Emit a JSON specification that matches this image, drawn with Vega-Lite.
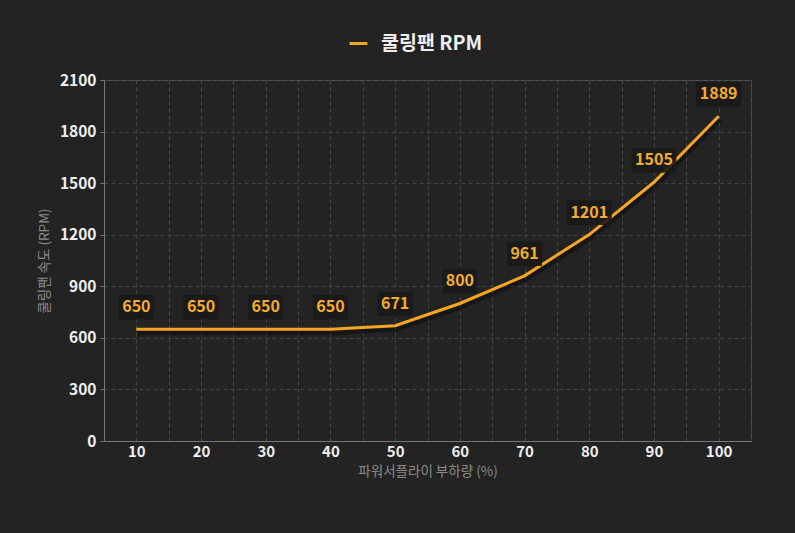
{
  "$schema": "https://vega.github.io/schema/vega-lite/v6.json",
  "width": 647,
  "height": 361,
  "autosize": "none",
  "padding": {"left": 104, "top": 80, "right": 44, "bottom": 92},
  "background": "#232323",
  "config": {
    "font": "Noto Sans CJK KR",
    "view": {"stroke": "#555555", "strokeWidth": 1}
  },
  "data": {
    "values": [
      {"load": 10, "rpm": 650, "series": "쿨링팬 RPM"},
      {"load": 20, "rpm": 650, "series": "쿨링팬 RPM"},
      {"load": 30, "rpm": 650, "series": "쿨링팬 RPM"},
      {"load": 40, "rpm": 650, "series": "쿨링팬 RPM"},
      {"load": 50, "rpm": 671, "series": "쿨링팬 RPM"},
      {"load": 60, "rpm": 800, "series": "쿨링팬 RPM"},
      {"load": 70, "rpm": 961, "series": "쿨링팬 RPM"},
      {"load": 80, "rpm": 1201, "series": "쿨링팬 RPM"},
      {"load": 90, "rpm": 1505, "series": "쿨링팬 RPM"},
      {"load": 100, "rpm": 1889, "series": "쿨링팬 RPM"}
    ]
  },
  "resolve": {"scale": {"x": "independent"}, "axis": {"x": "independent"}},
  "layer": [
    {
      "mark": {"type": "line", "color": "#000000", "strokeWidth": 6, "opacity": 0.35, "yOffset": 3, "xOffset": 1},
      "encoding": {
        "x": {"field": "load", "type": "quantitative", "scale": {"domain": [5, 105], "nice": false},
          "axis": {"orient": "top", "values": [5,15,25,35,45,55,65,75,85,95,105],
            "labels": false, "ticks": false, "domain": false, "title": null,
            "grid": true, "gridColor": "#444444", "gridDash": [4, 3], "gridWidth": 1}},
        "y": {"field": "rpm", "type": "quantitative", "scale": {"domain": [0, 2100], "nice": false},
          "axis": {"values": [0,150,300,450,600,750,900,1050,1200,1350,1500,1650,1800,1950,2100],
            "labelExpr": "(datum.value % 300 == 0) ? datum.label : ''",
            "labelOverlap": false,
            "format": "d",
            "grid": true, "gridColor": "#444444", "gridDash": [4, 3], "gridWidth": 1,
            "title": "쿨링팬 속도 (RPM)",
            "labelColor": "#eeeeee", "labelFontSize": 15.5, "labelFontWeight": "bold", "labelPadding": 4,
            "tickColor": "#777777", "tickSize": 4,
            "tickOpacity": {"condition": {"test": "datum.value % 300 == 0", "value": 1}, "value": 0},
            "domainColor": "#777777", "domainWidth": 1,
            "titleColor": "#8a8a8a", "titleFontSize": 13.5, "titleFontWeight": "normal", "titlePadding": 8}}
      }
    },
    {
      "layer": [
        {
          "mark": {"type": "line", "strokeWidth": 3},
          "encoding": {
            "x": {"field": "load", "type": "quantitative", "scale": {"domain": [5, 105], "nice": false},
              "axis": {"orient": "bottom", "values": [10,20,30,40,50,60,70,80,90,100],
                "grid": true, "gridColor": "#444444", "gridDash": [4, 3], "gridWidth": 1,
                "title": "파워서플라이 부하량 (%)",
                "labelColor": "#eeeeee", "labelFontSize": 15, "labelFontWeight": "bold", "labelPadding": 3,
                "ticks": false, "domainColor": "#777777", "domainWidth": 1,
                "titleColor": "#8a8a8a", "titleFontSize": 13.5, "titleFontWeight": "normal", "titlePadding": 5}},
            "y": {"field": "rpm", "type": "quantitative"},
            "color": {"field": "series", "type": "nominal", "scale": {"range": ["#f5a623"]},
              "legend": {"title": null, "orient": "none", "legendX": 244, "legendY": -47, "symbolType": "stroke",
                "symbolStrokeWidth": 3, "symbolSize": 320, "labelColor": "#eeeeee", "labelFontSize": 19.5,
                "labelFontWeight": "bold", "labelOffset": 12}}
          }
        },
        {
          "transform": [{"filter": "datum.rpm < 1000"}],
          "mark": {"type": "point", "filled": true, "color": "#1a1a1a", "opacity": 0.9, "yOffset": -22,
            "shape": "M-1,-0.7 H1 V0.7 H-1 Z", "size": 1225},
          "encoding": {
            "x": {"field": "load", "type": "quantitative"},
            "y": {"field": "rpm", "type": "quantitative"}
          }
        },
        {
          "transform": [{"filter": "datum.rpm >= 1000"}],
          "mark": {"type": "point", "filled": true, "color": "#1a1a1a", "opacity": 0.9, "yOffset": -22,
            "shape": "M-1,-0.55 H1 V0.55 H-1 Z", "size": 2025},
          "encoding": {
            "x": {"field": "load", "type": "quantitative"},
            "y": {"field": "rpm", "type": "quantitative"}
          }
        },
        {
          "mark": {"type": "text", "color": "#f4ad2c", "fontSize": 16, "fontWeight": "bold", "dy": -22, "baseline": "middle"},
          "encoding": {
            "x": {"field": "load", "type": "quantitative"},
            "y": {"field": "rpm", "type": "quantitative"},
            "text": {"field": "rpm", "type": "quantitative"}
          }
        }
      ]
    }
  ]
}
